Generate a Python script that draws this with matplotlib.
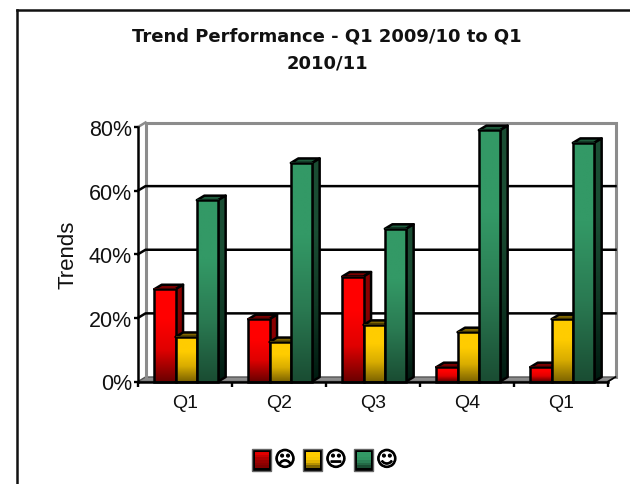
import numpy as np
import matplotlib
matplotlib.use("Agg")
import matplotlib.pyplot as plt
import matplotlib.patheffects as pe
from matplotlib.colors import LinearSegmentedColormap
from matplotlib.legend_handler import HandlerBase
from matplotlib.lines import Line2D
from matplotlib.patches import Patch, Polygon, Rectangle

categories = ["Q1", "Q2", "Q3", "Q4", "Q1"]
sad = [29, 19.6, 33, 4.5, 4.5]
neutral = [14, 12.4, 17.8, 15.5, 19.6]
happy = [57, 68.7, 48, 79, 75]
series_labels = ["\u2639", "\U0001F610", "\u263A"]
title_lines = ["Trend Performance - Q1 2009/10 to Q1", "2010/11"]
y_ticks = [0, 20, 40, 60, 80]
y_tick_labels = ["0%", "20%", "40%", "60%", "80%"]

W, H = 630, 485
plt.rcParams["font.family"] = ["Liberation Sans", "DejaVu Sans"]
fig = plt.figure(figsize=(W / 100, H / 100), dpi=100, facecolor="white")

L, R, T, B = 138, 608, 128, 382.5
ax = fig.add_axes([L / W, 1 - B / H, (R - L) / W, (B - T) / H])
ax.patch.set_visible(False)
XMAX, YMAX = len(categories), 80
DX = 7.5 / ((R - L) / XMAX)
DY = 4.5 / ((B - T) / YMAX)
BAR = 21.3 / ((R - L) / XMAX)
SHIFT = 1.2 / ((R - L) / XMAX)
BLACK_LW = 1.8

# frame: left and top only
fig.add_artist(Line2D([17 / W, 17 / W], [0, 1 - 11 / H], color="#111111", lw=1.8))
fig.add_artist(Line2D([17 / W, 1], [1 - 11 / H, 1 - 11 / H], color="#111111", lw=1.8))

# walls and floor
gray = "#8c8c8c"
ax.add_patch(Polygon([(0, 0), (DX, DY), (XMAX + DX, DY), (XMAX, 0)], closed=True,
                     facecolor=gray, edgecolor="#555555", lw=1, clip_on=False, zorder=1))
ax.plot([DX, DX, XMAX + DX, XMAX + DX], [DY, 80 + DY, 80 + DY, DY], color=gray, lw=2.2,
        clip_on=False, zorder=1, solid_joinstyle="miter")
ax.plot([0, DX], [80, 80 + DY], color=gray, lw=1.8, clip_on=False, zorder=1)
ax.plot([XMAX, XMAX + DX], [0, DY], color="black", lw=1.2, clip_on=False, zorder=1)
for v in y_ticks[1:-1]:
    ax.plot([0, DX, XMAX + DX], [v, v + DY, v + DY], color="black", lw=BLACK_LW,
            clip_on=False, zorder=2)

# colour ramps: values, front face stops, side face stops, top colour
ramps = [
    (sad, ["#ff0000", "#ff0000", "#e00000", "#6e0000"], ["#8a0000", "#8a0000", "#6a0000", "#3c0000"], "#7a0000"),
    (neutral, ["#ffcc00", "#ffcc00", "#d9ad00", "#806600"], ["#806600", "#806600", "#6a5500", "#403300"], "#806600"),
    (happy, ["#339966", "#339966", "#2a7a52", "#1a4d33"], ["#1a4d33", "#1a4d33", "#103824", "#001a10"], "#1f5c3d"),
]


def ramp_image(colors):
    cmap = LinearSegmentedColormap.from_list("r", colors)
    return cmap(np.linspace(0, 1, 128))[:, None, :]


z = 5
for s, (vals, front, side, top) in enumerate(ramps):
    for i, v in enumerate(vals):
        x0 = i + 0.5 + (s - 1.5) * BAR + SHIFT
        x1 = x0 + BAR
        # top face
        ax.add_patch(Polygon([(x0, v), (x0 + DX, v + DY), (x1 + DX, v + DY), (x1, v)], closed=True,
                             facecolor=top, edgecolor="black", lw=BLACK_LW, clip_on=False, zorder=z,
                             joinstyle="round"))
        # side face
        im = ax.imshow(ramp_image(side), extent=(x1, x1 + DX, 0, v + DY), aspect="auto",
                       origin="upper", zorder=z, clip_on=True, interpolation="bilinear")
        poly = Polygon([(x1, 0), (x1 + DX, DY), (x1 + DX, v + DY), (x1, v)], closed=True,
                       facecolor="none", edgecolor="black", lw=BLACK_LW, clip_on=False, zorder=z,
                       joinstyle="round")
        ax.add_patch(poly)
        im.set_clip_path(poly)
        # front face
        ax.imshow(ramp_image(front), extent=(x0, x1, 0, v), aspect="auto", origin="upper",
                  zorder=z + 1, clip_on=False, interpolation="bilinear")
        ax.add_patch(Rectangle((x0, 0), BAR, v, facecolor="none", edgecolor="black", lw=BLACK_LW,
                               clip_on=False, zorder=z + 1, joinstyle="miter"))
        z += 2

ax.set_xlim(0, XMAX)
ax.set_ylim(0, YMAX)
ax.set_xticks(np.arange(XMAX + 1))
ax.set_xticklabels([])
ax.set_xticks(np.arange(XMAX) + 0.5, labels=categories, minor=True)
ax.set_yticks(y_ticks, labels=y_tick_labels)
ax.tick_params(axis="x", which="major", length=3.5, width=1.7, color="black")
ax.tick_params(axis="x", which="minor", length=0, labelsize=14, pad=9, labelcolor="#111111")
ax.tick_params(axis="y", length=3, width=1.7, labelsize=15.5, pad=1.5, labelcolor="#111111")
for side_name in ["top", "right"]:
    ax.spines[side_name].set_visible(False)
for side_name in ["left", "bottom"]:
    ax.spines[side_name].set_linewidth(1.8)
    ax.spines[side_name].set_zorder(4)
ax.set_ylabel("Trends", fontsize=16, labelpad=7, color="#111111")

for line, y in zip(title_lines, [36, 63]):
    fig.text(327 / W, 1 - y / H, line, ha="center", va="center", fontsize=13,
             family="DejaVu Sans", weight="bold", color="#111111")


class GradientHandler(HandlerBase):
    def __init__(self, stops):
        super().__init__()
        self.stops = stops

    def create_artists(self, legend, orig, xd, yd, width, height, fontsize, trans):
        artists = [Rectangle((-xd, -yd - 4), width, height + 6, facecolor="black", edgecolor="#666666",
                             lw=1, transform=trans)]
        cols = ramp_image(["#e00000", "#a00000", "#800000"] if self.stops[0] == "#ff0000" else self.stops)[:, 0, :]
        n = 6
        box = height + 2
        for k in range(n):
            h = box / n
            artists.append(Rectangle((-xd + 2, -yd - 2 + box - (k + 1) * h), width - 3.5, h,
                                     facecolor=cols[int(k * 127 / (n - 1))], edgecolor="none", transform=trans))
        return artists


handles = [Patch(label=l) for l in series_labels]
hmap = {h: GradientHandler(r[1]) for h, r in zip(handles, ramps)}
leg = fig.legend(handles=handles, labels=series_labels, handler_map=hmap, ncol=3, frameon=False,
                 loc="center", bbox_to_anchor=(325 / W, 1 - 461 / H),
                 prop={"family": "DejaVu Sans", "size": 15},
                 handlelength=0.9, handleheight=0.6, handletextpad=0.15, columnspacing=0.35, borderpad=0)
for t in leg.get_texts():
    t.set_path_effects([pe.withStroke(linewidth=0.9, foreground="black")])

fig.savefig("out.png", dpi=100, facecolor="white")
